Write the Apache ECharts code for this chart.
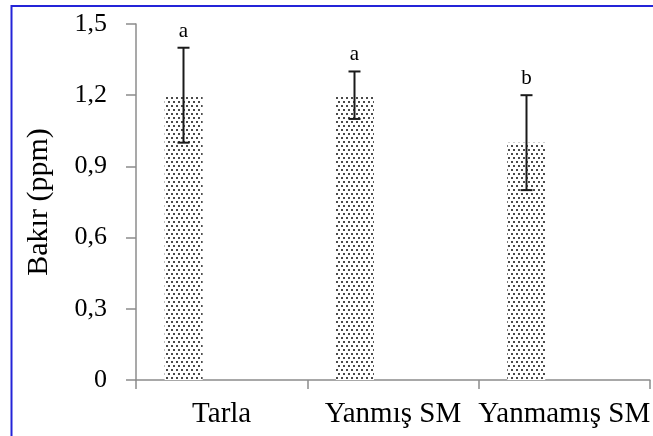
<!DOCTYPE html>
<html>
<head>
<meta charset="utf-8">
<script src="https://cdn.jsdelivr.net/npm/echarts@6/dist/echarts.min.js"></script>
<style>html,body{margin:0;padding:0;background:#fff;}#c{width:653px;height:436px;}</style>
</head>
<body>
<div id="c"></div>
<script>
const categories = ['Tarla', 'Yanmış SM', 'Yanmamış SM'];
const values = [1.2, 1.2, 1.0];
const errLow = [1.0, 1.1, 0.8];
const errHigh = [1.4, 1.3, 1.2];
const letters = ['a', 'a', 'b'];
const yTicks = [0, 0.3, 0.6, 0.9, 1.2, 1.5];

const pc = document.createElement('canvas');
pc.width = 10; pc.height = 8;
const g = pc.getContext('2d');
g.fillStyle = '#fff'; g.fillRect(0, 0, 10, 8);
g.fillStyle = '#4a4a4a';
[[1, 1], [6, 1], [3, 5], [8, 5]].forEach(p => g.fillRect(p[0], p[1], 2, 2));

const chart = echarts.init(document.getElementById('c'), null, {renderer: 'canvas'});
const font = '"Liberation Serif", "DejaVu Serif", serif';
const OFF = -0.225; // bar offset as fraction of band width

chart.setOption({
  animation: false,
  backgroundColor: '#fff',
  grid: {left: 136, right: 2, top: 24, bottom: 56, containLabel: false},
  xAxis: {
    type: 'category', data: categories,
    axisLine: {lineStyle: {color: '#8c8c8c', width: 1.5}},
    axisTick: {show: true, length: 9, lineStyle: {color: '#8c8c8c', width: 1.5}},
    axisLabel: {interval: 0, color: '#000', fontFamily: font, fontSize: 29, margin: 20}
  },
  yAxis: {
    type: 'value', min: 0, max: 1.5, interval: 0.3,
    name: 'Bakır (ppm)', nameLocation: 'middle', nameGap: 82,
    nameTextStyle: {color: '#000', fontFamily: font, fontSize: 30},
    splitLine: {show: false},
    axisLine: {show: true, lineStyle: {color: '#8c8c8c', width: 1.5}},
    axisTick: {show: true, length: 10, lineStyle: {color: '#8c8c8c', width: 1.5}},
    axisLabel: {color: '#000', fontFamily: font, fontSize: 26, margin: 29,
      formatter: v => { const t = yTicks.find(x => Math.abs(x - v) < 1e-9); return (t === undefined ? v : t).toString().replace('.', ','); }}
  },
  graphic: [
    {type: 'line', shape: {x1: 11, y1: 6, x2: 653, y2: 6}, style: {stroke: '#2424d8', lineWidth: 2}, z: 100},
    {type: 'line', shape: {x1: 11.5, y1: 5, x2: 11.5, y2: 436}, style: {stroke: '#2424d8', lineWidth: 2}, z: 100}
  ],
  series: [
    {type: 'bar', data: values, barWidth: 38, barGap: '100%',
     itemStyle: {color: {image: pc, repeat: 'repeat'}}},
    {type: 'bar', data: values.map(() => null), barWidth: 38},
    {type: 'custom', z: 10,
     data: categories.map((c, i) => [i, errLow[i], errHigh[i]]),
     renderItem: function (params, api) {
       const bw = api.size([1, 0])[0];
       const lo = api.coord([api.value(0), api.value(1)]);
       const hi = api.coord([api.value(0), api.value(2)]);
       const x = Math.round(lo[0] + OFF * bw) + 0.5;
       const cap = 6;
       const st = {stroke: '#1a1a1a', lineWidth: 2};
       return {type: 'group', children: [
         {type: 'line', shape: {x1: x, y1: lo[1], x2: x, y2: hi[1]}, style: st},
         {type: 'line', shape: {x1: x - cap, y1: lo[1], x2: x + cap, y2: lo[1]}, style: st},
         {type: 'line', shape: {x1: x - cap, y1: hi[1], x2: x + cap, y2: hi[1]}, style: st},
         {type: 'text', style: {text: letters[params.dataIndex], x: x, y: hi[1] - 6,
           textAlign: 'center', textVerticalAlign: 'bottom', fill: '#000', font: '21px ' + font}}
       ]};
     }}
  ]
});
</script>
</body>
</html>
